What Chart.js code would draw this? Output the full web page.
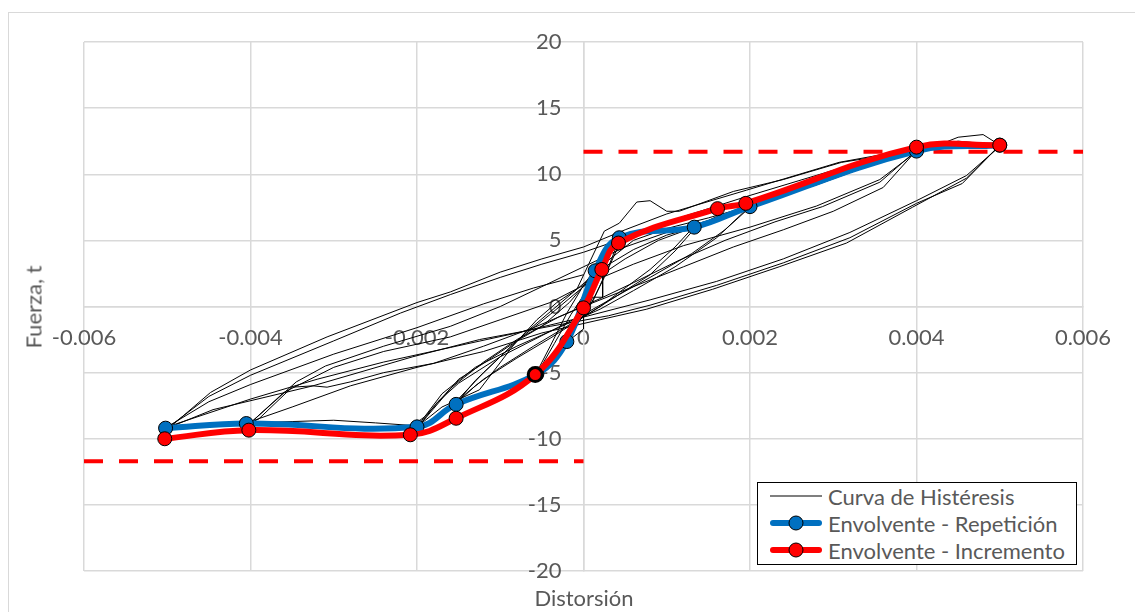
<!DOCTYPE html>
<html>
<head>
<meta charset="utf-8">
<script src="https://cdn.jsdelivr.net/npm/chart.js@4.4.1/dist/chart.umd.min.js"></script>
<style>
  body { margin: 0; background: #fff; overflow: hidden; }
  #wrap { position: relative; width: 1135px; height: 612px; font-family: Lato, sans-serif; color: #595959; }
  #frame { position: absolute; left: 8px; top: 12px; width: 1300px; height: 800px; border: 1.5px solid #d9d9d9; }
  canvas { position: absolute; left: 0; top: 0; }
  .ttl { position: absolute; font-size: 22px; white-space: nowrap; }
  #ytitle { left: 33px; top: 307px; transform: translate(-50%, -50%) rotate(-90deg); }
  #xtitle { left: 584px; top: 597px; transform: translate(-50%, -50%); }
  #legend { position: absolute; left: 757px; top: 482px; width: 318px; height: 81px; border: 1.5px solid #000; background: #fff; }
  .row { position: absolute; left: 0; height: 28px; display: flex; align-items: center; font-size: 22px; white-space: nowrap; }
  .smp { position: relative; width: 52px; height: 28px; margin-left: 12px; margin-right: 6px; }
  .smp .ln { position: absolute; left: 0; right: 0; top: 50%; transform: translateY(-50%); }
  .smp .dot { position: absolute; left: 50%; top: 50%; width: 13px; height: 13px; border: 1px solid #000; border-radius: 50%; transform: translate(-50%, -50%); }
</style>
</head>
<body>
<div id="wrap">
  <div id="frame"></div>
  <canvas id="chart" width="1135" height="612"></canvas>
  <div class="ttl" id="ytitle">Fuerza, t</div>
  <div class="ttl" id="xtitle">Distorsión</div>
  <div id="legend">
    <div class="row" style="top:-1px"><div class="smp"><div class="ln" style="height:1px;background:#000"></div></div>Curva de Histéresis</div>
    <div class="row" style="top:26px"><div class="smp"><div class="ln" style="height:6px;background:#0070c0;border-radius:3px"></div><div class="dot" style="background:#0070c0"></div></div>Envolvente - Repetición</div>
    <div class="row" style="top:53px"><div class="smp"><div class="ln" style="height:6px;background:#ff0000;border-radius:3px"></div><div class="dot" style="background:#ff0000"></div></div>Envolvente - Incremento</div>
  </div>
</div>
<script>
// tick values / labels
const xTicks = [-0.006, -0.004, -0.002, 0, 0.002, 0.004, 0.006];
const xTickLabels = ['-0.006', '-0.004', '-0.002', '0', '0.002', '0.004', '0.006'];
const yTicks = [-20, -15, -10, -5, 0, 5, 10, 15, 20];
const yTickLabels = ['-20', '-15', '-10', '-5', '0', '5', '10', '15', '20'];

// envelope, repetition cycles
const repDrift = [-0.00502, -0.00405, -0.002, -0.00153, -0.00056, -0.0002, 0.00014, 0.00043, 0.00133, 0.002, 0.004, 0.005];
const repForce = [-9.2, -8.85, -9.1, -7.4, -5.1, -2.65, 2.7, 5.2, 6.0, 7.55, 11.75, 12.2];

// envelope, increment cycles
const incDrift = [-0.00503, -0.00402, -0.00208, -0.00153, -0.00058, 0, 0.00022, 0.00042, 0.00161, 0.00195, 0.004, 0.005];
const incForce = [-10.0, -9.35, -9.7, -8.45, -5.15, -0.1, 2.8, 4.8, 7.4, 7.8, 12.05, 12.2];

// yield force lines
const yieldPos = 11.7;
const yieldNeg = -11.7;

// hysteresis record [drift, force]
const histeresis = [
  [0, 0], [0.00008, 1.2], [0.00016, 2.7], [0.0001, 1.2], [0, -0.4], [-0.0001, -1.4], [-0.0002, -2.6],
  [-0.00008, -0.8], [0.00005, 0.6], [0.00016, 2.5], [0.00008, 0.9], [-0.00005, -0.9], [-0.0002, -2.5],
  [-0.00005, -0.4], [0.0001, 1.6], [0.00018, 2.8], [0.00023, 2.4], [0.00023, 0.7], [0.00011, 0.7],
  [0, -0.8], [0, -1.7], [-0.0002, -2.7],
  [-0.0001, -1.0], [0.0001, 1.5], [0.0003, 3.8], [0.00043, 5.1],
  [0.0003, 3.0], [0.00012, 0.5], [-0.0001, -1.6], [-0.0003, -3.2], [-0.00056, -5.1],
  [-0.00035, -2.8], [-0.00015, -0.6], [0.0001, 1.8], [0.0003, 3.8], [0.00045, 5.0],
  [0.00025, 2.2], [0.00005, -0.3], [-0.0002, -2.2], [-0.00045, -4.2], [-0.00058, -5.2],
  [-0.0004, -3.0], [-0.0002, -0.5], [0, 1.6], [0.00025, 3.8], [0.00045, 5.2],
  [0.0008, 5.6], [0.00132, 6.0],
  [0.0011, 4.5], [0.0008, 2.8], [0.0005, 1.4], [0.0002, 0.0], [-0.0002, -1.5], [-0.0006, -3.0],
  [-0.001, -4.6], [-0.0013, -6.0], [-0.00154, -7.4],
  [-0.0013, -5.6], [-0.001, -3.8], [-0.0007, -2.0], [-0.0004, -0.4], [-0.0001, 1.2], [0.0002, 2.8],
  [0.0006, 4.3], [0.001, 5.4], [0.00135, 6.0],
  [0.0011, 4.2], [0.0008, 2.4], [0.0004, 0.8], [0, -0.8], [-0.0004, -2.4], [-0.0008, -3.9],
  [-0.0012, -5.5], [-0.00155, -7.3],
  [-0.0012, -5.0], [-0.0008, -2.6], [-0.0004, -0.6], [0, 1.5], [0.0005, 3.6], [0.0009, 5.0], [0.00133, 6.0],
  [0.0016, 6.8], [0.002, 7.5],
  [0.0017, 5.8], [0.0013, 4.0], [0.0008, 2.2], [0.0004, 0.8], [0, -0.6], [-0.0005, -2.2], [-0.001, -3.8],
  [-0.0015, -5.8], [-0.00175, -7.2], [-0.002, -9.2],
  [-0.0015, -5.5], [-0.00125, -4.5], [-0.0008, -2.6], [-0.0005, -1.5], [-0.00017, 0.3], [0.0002, 3.0],
  [0.0006, 5.0], [0.001, 5.9], [0.0015, 6.7], [0.002, 7.6],
  [0.0016, 5.2], [0.0011, 3.0], [0.0006, 1.2], [0.0002, -0.2], [-0.0003, -1.6], [-0.0008, -3.0],
  [-0.0013, -4.6], [-0.0017, -6.6], [-0.002, -9.1],
  [-0.0017, -7.6], [-0.00125, -6.3], [-0.00085, -3.0], [-0.00056, -1.0], [-0.00032, 0.3], [-0.00008, 1.3],
  [0.00025, 5.7], [0.00043, 6.3], [0.00064, 7.9], [0.0008, 8.0], [0.001, 7.2], [0.00115, 7.2],
  [0.0018, 8.7], [0.0024, 9.6], [0.0031, 10.9], [0.004, 11.8],
  [0.00356, 9.4], [0.00287, 7.55], [0.0023, 6.4], [0.0017, 5.0], [0.00115, 3.5], [0.0006, 1.8],
  [0.0002, 0.6], [-0.0003, -0.8], [-0.0008, -2.5], [-0.0012, -4.2], [-0.0016, -6.2], [-0.0019, -8.3],
  [-0.00205, -9.0], [-0.0025, -8.8], [-0.003, -8.6], [-0.0035, -8.7], [-0.004, -8.8],
  [-0.00345, -5.7], [-0.0031, -4.5], [-0.0024, -3.0], [-0.0016, -1.5], [-0.001, 0.0], [-0.0005, 1.5],
  [0, 3.0], [0.0005, 4.5], [0.001, 5.6], [0.0015, 6.5], [0.002, 7.6], [0.0028, 9.2], [0.0035, 10.8], [0.004, 11.8],
  [0.0036, 9.0], [0.003, 7.2], [0.0024, 5.8], [0.0018, 4.5], [0.0012, 3.0], [0.0006, 1.5], [0, 0],
  [-0.0006, -1.6], [-0.0012, -3.0], [-0.0018, -4.3], [-0.0024, -5.0], [-0.0028, -5.7], [-0.00308, -6.1],
  [-0.00325, -6.0], [-0.0035, -6.1], [-0.0039, -8.5], [-0.004, -8.8],
  [-0.0036, -6.5], [-0.003, -4.6], [-0.0024, -3.4], [-0.0016, -2.3], [-0.001, -1.0], [-0.0004, 0.3],
  [0, 1.6], [0.0006, 3.2], [0.0012, 4.6], [0.002, 6.0], [0.0028, 7.6], [0.00356, 9.6], [0.004, 11.7],
  [0.0043, 12.3], [0.0045, 12.8], [0.0048, 13.0], [0.005, 12.2],
  [0.0046, 9.7], [0.00395, 7.5], [0.00316, 4.8], [0.00235, 3.0], [0.00155, 1.3], [0.00076, -0.2],
  [0.0002, -1.0], [-0.0005, -2.0], [-0.0012, -3.4], [-0.002, -4.6], [-0.0028, -6.0], [-0.0035, -7.6],
  [-0.004, -8.7], [-0.0045, -8.9], [-0.005, -9.3],
  [-0.00448, -6.5], [-0.004, -4.8], [-0.00308, -2.3], [-0.002, 0.3], [-0.0016, 1.1], [-0.001, 2.6],
  [-0.0005, 3.6], [0, 4.5], [0.0005, 5.8], [0.001, 7.0], [0.00196, 8.8], [0.00307, 10.9], [0.00395, 11.9],
  [0.0045, 12.5], [0.005, 12.2],
  [0.00455, 9.3], [0.004, 7.8], [0.0032, 5.2], [0.0024, 3.3], [0.0016, 1.6], [0.0008, 0.1], [0.0003, -0.7],
  [-0.0004, -1.5], [-0.00125, -2.5], [-0.00205, -3.8], [-0.00325, -6.0], [-0.00445, -7.8], [-0.005, -9.2],
  [-0.0045, -6.8], [-0.004, -5.2], [-0.003, -2.6], [-0.0022, -0.5], [-0.0016, 0.9], [-0.001, 2.2],
  [-0.0005, 3.2], [0, 4.1], [0.0006, 5.4], [0.0012, 6.8], [0.002, 8.4], [0.003, 10.3], [0.004, 11.9], [0.005, 12.1],
  [0.0046, 9.9], [0.004, 8.0], [0.0032, 5.6], [0.0024, 3.6], [0.0016, 1.9], [0.0008, 0.5], [0, -0.8],
  [-0.0008, -2.0], [-0.0016, -3.1], [-0.0024, -4.2], [-0.0032, -5.5], [-0.004, -7.0], [-0.005, -9.1],
  [-0.0045, -7.2], [-0.004, -5.9], [-0.003, -3.6], [-0.002, -1.6], [-0.0012, 0.2], [-0.0006, 1.4], [0, 2.4]
];

const GRID = '#d9d9d9';
const TEXT = '#595959';
const tickFont = { family: 'Lato', size: 22 };

const toPts = (xs, ys) => xs.map((x, i) => ({ x, y: ys[i] }));

new Chart(document.getElementById('chart'), {
  type: 'scatter',
  data: {
    datasets: [
      {
        label: 'Envolvente - Incremento',
        data: toPts(incDrift, incForce),
        showLine: true,
        borderColor: '#ff0000',
        backgroundColor: '#ff0000',
        borderWidth: 6,
        tension: 0.4,
        pointRadius: 7,
        pointBackgroundColor: '#ff0000',
        pointBorderColor: '#000',
        pointBorderWidth: (ctx) => (ctx.dataIndex === 4 ? 3 : 1),
      },
      {
        label: 'Envolvente - Repetición',
        data: toPts(repDrift, repForce),
        showLine: true,
        borderColor: '#0070c0',
        backgroundColor: '#0070c0',
        borderWidth: 6,
        tension: 0.4,
        pointRadius: 7,
        pointBackgroundColor: '#0070c0',
        pointBorderColor: '#000',
        pointBorderWidth: 1,
      },
      {
        label: 'Fluencia +',
        data: [{ x: 0, y: yieldPos }, { x: 0.006, y: yieldPos }],
        showLine: true,
        borderColor: '#ff0000',
        borderWidth: 4,
        borderDash: [19, 16],
        pointRadius: 0,
      },
      {
        label: 'Fluencia -',
        data: [{ x: -0.006, y: yieldNeg }, { x: 0, y: yieldNeg }],
        showLine: true,
        borderColor: '#ff0000',
        borderWidth: 4,
        borderDash: [19, 16],
        pointRadius: 0,
      },
      {
        label: 'Curva de Histéresis',
        data: histeresis.map(([x, y]) => ({ x, y })),
        showLine: true,
        borderColor: '#000',
        borderWidth: 1,
        tension: 0,
        pointRadius: 0,
      },
    ],
  },
  options: {
    responsive: false,
    animation: false,
    layout: { padding: { left: 84, right: 52, top: 42, bottom: 41 } },
    plugins: { legend: { display: false }, tooltip: { enabled: false } },
    scales: {
      x: {
        type: 'linear',
        min: -0.006,
        max: 0.006,
        position: { y: 0 },
        afterFit: (s) => { s.height = 0; },
        afterBuildTicks: (s) => { s.ticks = xTicks.map((v) => ({ value: v })); },
        grid: { color: GRID, lineWidth: 1.5, drawTicks: false },
        border: { color: GRID, width: 1.5 },
        ticks: {
          padding: 18, color: TEXT, font: tickFont, maxRotation: 0, autoSkip: false,
          callback: (v, i) => xTickLabels[i],
        },
      },
      y: {
        type: 'linear',
        min: -20,
        max: 20,
        position: { x: 0 },
        afterFit: (s) => { s.width = 0; },
        afterBuildTicks: (s) => { s.ticks = yTicks.map((v) => ({ value: v })); },
        grid: { color: GRID, lineWidth: 1.5, drawTicks: false },
        border: { color: GRID, width: 1.5 },
        ticks: {
          padding: 0, color: TEXT, font: tickFont, autoSkip: false,
          callback: (v, i) => yTickLabels[i] + '\u2003\u2005',
        },
      },
    },
  },
});
</script>
</body>
</html>
